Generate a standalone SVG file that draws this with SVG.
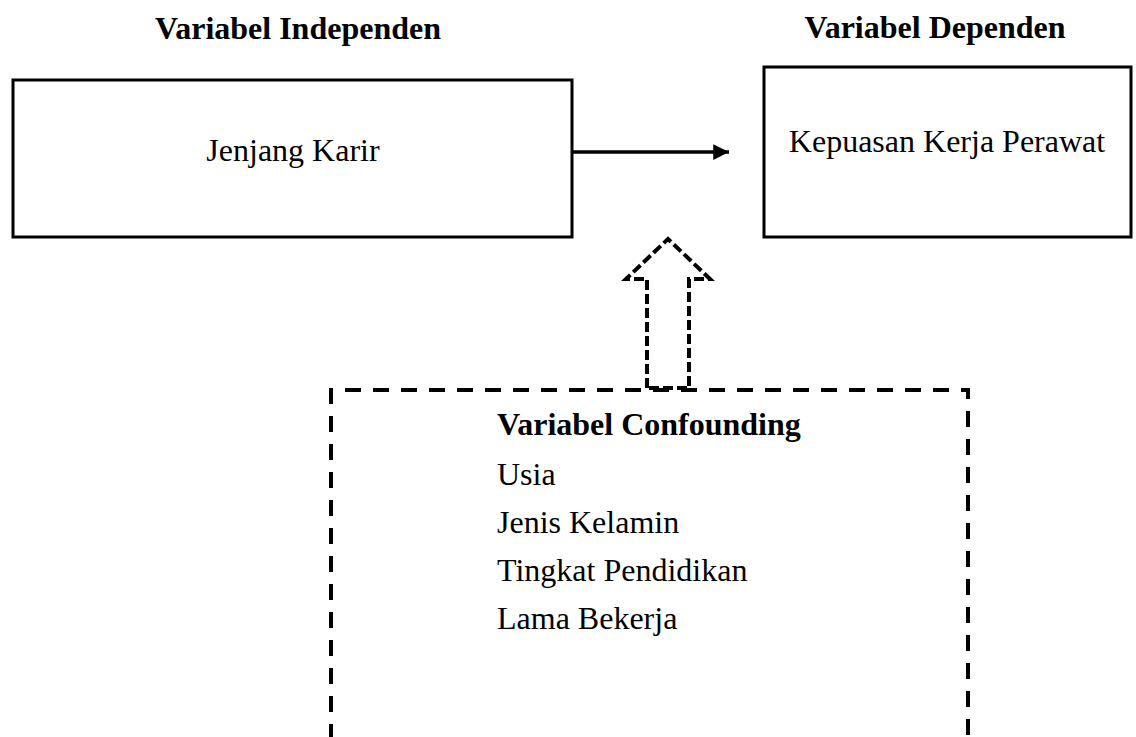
<svg xmlns="http://www.w3.org/2000/svg" width="1136" height="737" viewBox="0 0 1136 737">
<style>
.t{font-family:"Liberation Serif","Times New Roman",serif;font-size:32px;fill:#000}
.b{font-weight:bold}
.box{fill:#fff;stroke:#000;stroke-width:3}
.dash{fill:none;stroke:#000;stroke-width:4;stroke-dasharray:16 12}
.dash2{fill:#fff;stroke:#000;stroke-width:4;stroke-dasharray:10 4;stroke-linejoin:miter}
</style>
<defs>
<marker id="ah" viewBox="0 0 10 10" refX="10" refY="5" markerWidth="4.5" markerHeight="4.5" markerUnits="strokeWidth" orient="auto">
<path d="M0,0 L10,5 L0,10 z" fill="#000"/>
</marker>
</defs>
<rect width="1136" height="737" fill="#fff"/>
<text class="t b" x="298" y="39" text-anchor="middle">Variabel Independen</text>
<text class="t b" x="935" y="38" text-anchor="middle">Variabel Dependen</text>
<g id="independen">
<rect class="box" x="13" y="80" width="559" height="157"/>
<text class="t" x="293" y="161" text-anchor="middle">Jenjang Karir</text>
</g>
<g id="dependen">
<rect class="box" x="764" y="67" width="367" height="170"/>
<text class="t" x="947" y="152" text-anchor="middle">Kepuasan Kerja Perawat</text>
</g>
<g id="confounding">
<path class="dash" d="M331,740 L331,390 L968,390 L968,740"/>
<text class="t b" x="497" y="435">Variabel Confounding</text>
<text class="t" x="497" y="485">Usia</text>
<text class="t" x="497" y="533">Jenis Kelamin</text>
<text class="t" x="497" y="581">Tingkat Pendidikan</text>
<text class="t" x="497" y="629">Lama Bekerja</text>
</g>
<g id="connectors">
<line x1="572" y1="152" x2="729" y2="152" stroke="#000" stroke-width="3.5" marker-end="url(#ah)"/>
<path class="dash2" d="M647,388 L647,279 L626,279 L668,239 L710,279 L689,279 L689,388 Z"/>
</g>
</svg>
